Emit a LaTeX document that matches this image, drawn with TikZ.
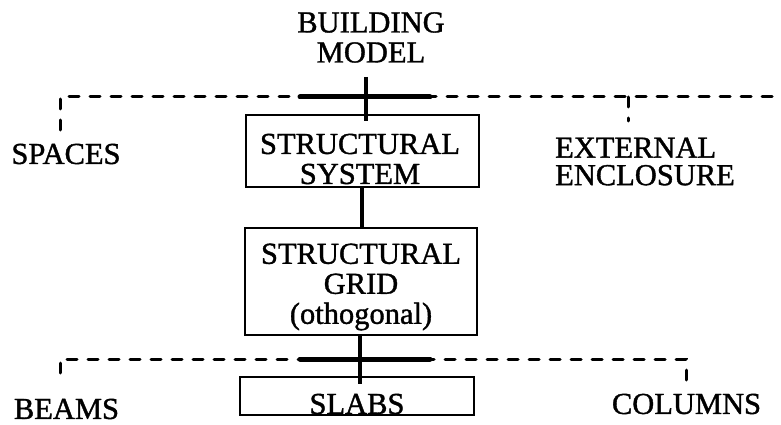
\documentclass[tikz,border=0pt]{standalone}
\usepackage{fontspec}
\setmainfont{Liberation Serif}
\newfontface\scanface{Liberation Serif}[FakeBold=1.2]
\usetikzlibrary{fit}
\begin{document}
\begin{tikzpicture}[x=1pt,y=-1pt,
  lbl/.style={font=\scanface\fontsize{30.5}{30}\selectfont, inner sep=0pt, align=center},
  frame/.style={draw, line width=2.5pt, inner sep=0pt},
  stem/.style={line width=4pt},
  heavy/.style={line width=5pt, line cap=round},
  dashline/.style={line width=3pt, dash pattern=on 10pt off 11pt, line cap=round}]
\useasboundingbox (0,0) rectangle (781,425);

% labels
\node[lbl] (model) at (371,37.5) {BUILDING\\MODEL};
\node[lbl] (spaces) at (66,154) {SPACES};
\node[lbl, anchor=west, align=left, font=\scanface\fontsize{30.5}{27.5}\selectfont] (ext) at (555,161.5) {EXTERNAL\\ENCLOSURE};
\node[lbl] (beams) at (66.5,409) {BEAMS};
\node[lbl] (columns) at (686.5,404) {COLUMNS};

% boxed items
\node[lbl] (systext) at (360,159) {STRUCTURAL\\SYSTEM};
\node[frame, fit={(246,115) (479,187)}] (sys) {};
\node[lbl] (gridtext) at (361,287) {STRUCTURAL\\GRID\\(othogonal)};
\node[frame, fit={(245,228) (477,335)}] (grid) {};
\node[lbl] (slabstext) at (357,404) {SLABS};
\node[frame, fit={(240,377) (474,415)}] (slabs) {};

% junction points of the branch lines
\coordinate (mfoot) at (366,77);
\coordinate (spdrop) at (60,130);
\coordinate (topend) at (781,97);
\coordinate (extjoin) at (628,97);
\coordinate (extdrop) at (628,121);
\coordinate (hubAL) at (300,97);
\coordinate (hubAR) at (430,97);
\coordinate (bmdrop) at (60,373);
\coordinate (cldrop) at (686,382);
\coordinate (hubBL) at (300,359);
\coordinate (hubBR) at (430,359);

% upper branch
\draw[dashline] (spdrop) |- (topend);
\draw[dashline] (extjoin) -- (extdrop);
\draw[heavy] (hubAL) -- (hubAR);
\draw[stem] (mfoot) -- ([yshift=-7pt]mfoot |- sys.north);

% system to grid
\draw[stem] (sys.south -| 362,0) -- (grid.north -| 362,0);

% lower branch
\draw[dashline] (bmdrop) |- (hubBL) -- (hubBR -| cldrop) -- (cldrop);
\draw[heavy] (hubBL) -- (hubBR);
\draw[stem] (grid.south -| 360,0) -- ([yshift=-8pt]slabs.north -| 360,0);
\end{tikzpicture}
\end{document}
